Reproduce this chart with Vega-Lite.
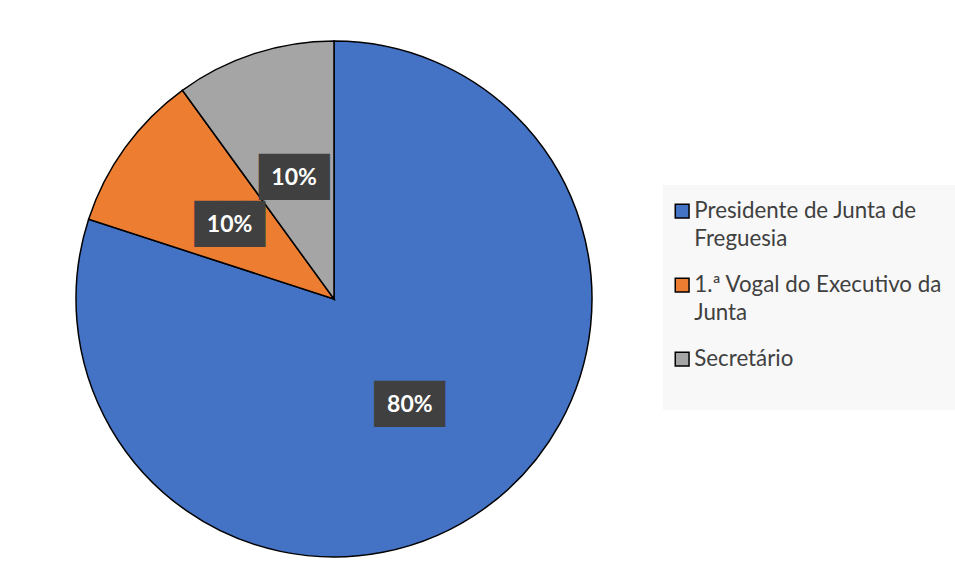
{
  "$schema": "https://vega.github.io/schema/vega-lite/v6.json",
  "width": 516,
  "height": 516,
  "padding": {"left": 73, "top": 38, "right": 0, "bottom": 0},
  "background": "white",
  "config": {"view": {"stroke": null}},
  "data": {
    "values": [
      {"cargo": "Presidente de Junta de Freguesia", "valor": 0.8, "ordem": 1},
      {"cargo": "1.ª Vogal do Executivo da Junta", "valor": 0.1, "ordem": 2},
      {"cargo": "Secretário", "valor": 0.1, "ordem": 3}
    ]
  },
  "encoding": {
    "theta": {"field": "valor", "type": "quantitative", "stack": true},
    "order": {"field": "ordem", "type": "quantitative"},
    "detail": {"field": "cargo", "type": "nominal"}
  },
  "layer": [
    {
      "mark": {"type": "arc", "outerRadius": 258, "stroke": "black", "strokeWidth": 1.5},
      "encoding": {
        "color": {
          "field": "cargo",
          "type": "nominal",
          "sort": ["Presidente de Junta de Freguesia", "1.ª Vogal do Executivo da Junta", "Secretário"],
          "scale": {
            "domain": ["Presidente de Junta de Freguesia", "1.ª Vogal do Executivo da Junta", "Secretário"],
            "range": ["#4472C4", "#ED7D31", "#A5A5A5"]
          },
          "legend": {
            "orient": "none",
            "legendX": 587,
            "legendY": 144,
            "title": " ",
            "titleOrient": "bottom",
            "titleFontSize": 20,
            "titlePadding": 5,
            "fillColor": "#f8f8f8",
            "padding": 15,
            "labelFont": "Lato",
            "labelFontSize": 22.3,
            "labelColor": "#404040",
            "labelLimit": 400,
            "labelOffset": 1,
            "symbolOffset": -7,
            "symbolType": "square",
            "symbolSize": 190,
            "symbolStrokeColor": "black",
            "symbolStrokeWidth": 1.5,
            "rowPadding": 23,
            "labelBaseline": "top",
            "labelExpr": "datum.label == 'Presidente de Junta de Freguesia' ? ['Presidente de Junta de', 'Freguesia'] : datum.label == '1.ª Vogal do Executivo da Junta' ? ['1.ª Vogal do Executivo da', 'Junta'] : datum.label",
            "encode": {"labels": {"update": {"lineHeight": {"value": 28}, "dy": {"value": -11}}}}
          }
        }
      }
    },
    {
      "mark": {"type": "text", "radius": 129, "dy": 2, "text": "███", "font": "DejaVu Sans Mono", "fontSize": 39, "color": "#404040", "baseline": "middle"}
    },
    {
      "mark": {"type": "text", "radius": 129, "dy": 2, "font": "Lato", "fontWeight": "bold", "fontSize": 23, "color": "white", "baseline": "middle"},
      "encoding": {"text": {"field": "valor", "type": "quantitative", "format": ".0%"}}
    }
  ]
}
